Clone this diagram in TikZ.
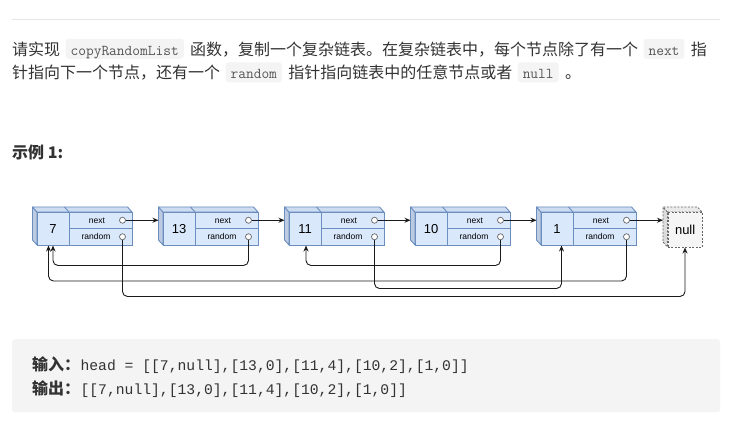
\documentclass[tikz,border=0pt]{standalone}
\usepackage{fontspec}
\setmainfont{Liberation Sans}
\newfontfamily\cjk{Noto Sans CJK SC}
\newfontfamily\blockmono{Liberation Mono}
\usetikzlibrary{arrows.meta,calc}
\definecolor{bodyc}{HTML}{333333}
\definecolor{codec}{HTML}{555555}
\definecolor{codebg}{HTML}{F4F4F4}
\definecolor{blockbg}{HTML}{F4F4F4}
\definecolor{rulec}{HTML}{E5E5E5}
\definecolor{bfill}{HTML}{DAE8FC}
\definecolor{btop}{HTML}{CEDCF1}
\definecolor{bside}{HTML}{BCCBE2}
\definecolor{bstroke}{HTML}{6C8EBF}
\definecolor{nfill}{HTML}{F5F5F5}
\definecolor{ntop}{HTML}{EAEAEA}
\definecolor{nside}{HTML}{DCDCDC}
\definecolor{nstroke}{HTML}{666666}
\definecolor{linec}{HTML}{1A1A1A}
\tikzset{
  txt/.style={inner sep=0pt, anchor=base west, font=\cjk\fontsize{16}{16}\selectfont, text=bodyc},
  txtb/.style={txt, font=\cjk\bfseries\fontsize{16}{16}\selectfont},
  icode/.style={anchor=base west, fill=codebg, rounded corners=3pt, inner xsep=5pt, inner ysep=0pt,
    text height=16.5pt, text depth=3.5pt, font=\ttfamily\fontsize{15}{15}\selectfont, text=codec},
  front/.style={draw=bstroke, fill=bfill, line width=0.9pt, minimum width=95pt, minimum height=33pt, inner sep=0pt, anchor=north west},
  sideface/.style={draw=bstroke, fill=bside, line width=0.9pt, line join=round},
  topface/.style={draw=bstroke, fill=btop, line width=0.9pt, line join=round},
  boxline/.style={draw=bstroke, line width=0.9pt},
  valtxt/.style={inner sep=0pt, anchor=base, font=\fontsize{13}{13}\selectfont, text=black},
  smalltxt/.style={inner sep=0pt, anchor=base, font=\fontsize{8.5}{8.5}\selectfont, text=black},
  dot/.style={circle, draw=nstroke, fill=white, line width=0.7pt, minimum size=6pt, inner sep=0pt},
  arr/.style={draw=linec, line width=0.9pt, -{Stealth[length=6pt,width=5pt]}, rounded corners=5pt},
}
\begin{document}
\begin{tikzpicture}[x=1pt,y=-1pt]
\path[use as bounding box, fill=white] (0,0) rectangle (734,422);
% top rule
\draw[rulec, line width=1pt] (12,19.5) -- (720,19.5);
% paragraph line 1
\node[txt] (a1) at (12,55.3) {请实现};
\node[icode] (a2) at ($(a1.base east)+(5,0)$) {copyRandomList};
\node[txt] (a3) at ($(a2.base east)+(6,0)$) {函数，复制一个复杂链表。在复杂链表中，每个节点除了有一个};
\node[icode] (a4) at ($(a3.base east)+(5,0)$) {next};
\node[txt] (a5) at ($(a4.base east)+(6,0)$) {指};
% paragraph line 2
\node[txt] (b1) at (12,78.8) {针指向下一个节点，还有一个};
\node[icode] (b2) at ($(b1.base east)+(5,0)$) {random};
\node[txt] (b3) at ($(b2.base east)+(6,0)$) {指针指向链表中的任意节点或者};
\node[icode] (b4) at ($(b3.base east)+(5,0)$) {null};
\node[txt] (b5) at ($(b4.base east)+(6,0)$) {。};
% example title
\node[txtb] (ex) at (12,159) {示例 1:};
% list nodes
\foreach \i/\x/\v in {1/37/7, 2/163/13, 3/289/11, 4/415/10, 5/541/1}{
  \draw[sideface] (\x,212) -- (\x-4.5,207) -- (\x-4.5,240) -- (\x,245) -- cycle;
  \draw[topface] (\x,212) -- (\x-4.5,207) -- (\x+90.5,207) -- (\x+95,212) -- cycle;
  \draw[boxline] (\x+32,212) -- (\x+27.5,207);
  \node[front] (n\i) at (\x,212) {};
  \draw[boxline] (\x+32,212) -- (\x+32,245);
  \draw[boxline] (\x+32,228.5) -- (\x+95,228.5);
  \node[valtxt] (v\i) at (\x+16,233.2) {\v};
  \node[smalltxt] (nt\i) at (\x+60,223.3) {next};
  \node[smalltxt] (rt\i) at (\x+59,239.5) {random};
  \node[dot] (nx\i) at (\x+85.5,220.25) {};
  \node[dot] (r\i) at (\x+85.5,236.75) {};
  \coordinate (in\i) at (\x-4.5,220.25);
}
% null node
\draw[draw=nstroke, fill=nside, line width=0.8pt, dash pattern=on 2pt off 1.5pt] (667.5,212) -- (663,207) -- (663,242) -- (667.5,247) -- cycle;
\draw[draw=nstroke, fill=ntop, line width=0.8pt, dash pattern=on 2pt off 1.5pt] (667.5,212) -- (663,207) -- (697.5,207) -- (702,212) -- cycle;
\node[draw=nstroke, fill=nfill, line width=0.8pt, dash pattern=on 2pt off 1.5pt, minimum width=34.5pt, minimum height=35pt, inner sep=0pt, anchor=north west, font=\fontsize{13}{13}\selectfont] (nul) at (667.5,212) {null};
\coordinate (innull) at (663,220.25);
% next arrows
\foreach \i/\j in {1/2,2/3,3/4,4/5}{
  \draw[arr] (nx\i.east) -- (in\j);
}
\draw[arr] (nx5.east) -- (innull);
% random arrows
\coordinate (t1a) at (48.5,245.5);
\coordinate (t1b) at (53,245.5);
\coordinate (t3) at (306,245.5);
\coordinate (t5) at (561.5,245.5);
\coordinate (tn) at (685,247.5);
\draw[arr] (r2.south) |- ($(t1b)+(0,20)$) -- (t1b);
\draw[arr] (r4.south) |- ($(t3)+(0,20)$) -- (t3);
\draw[arr] (r5.south) |- ($(t1a)+(0,35.5)$) -- (t1a);
\draw[arr] (r3.south) |- ($(t5)+(0,43)$) -- (t5);
\draw[arr] (r1.south) |- ($(tn)+(0,49)$) -- (tn);
% code block
\node[fill=blockbg, rounded corners=3pt, anchor=north west, minimum width=708pt, minimum height=73pt, inner sep=0pt] (blk) at (12,339) {};
\node[txtb] (i1) at (32,370) {输入：};
\node[inner sep=0pt, anchor=base west, font=\blockmono\fontsize{14.7}{14.7}\selectfont, text=bodyc] (i2) at (i1.base east) {head = [[7,null],[13,0],[11,4],[10,2],[1,0]]};
\node[txtb] (o1) at (32,394) {输出：};
\node[inner sep=0pt, anchor=base west, font=\blockmono\fontsize{14.7}{14.7}\selectfont, text=bodyc] (o2) at (o1.base east) {[[7,null],[13,0],[11,4],[10,2],[1,0]]};
\end{tikzpicture}
\end{document}
